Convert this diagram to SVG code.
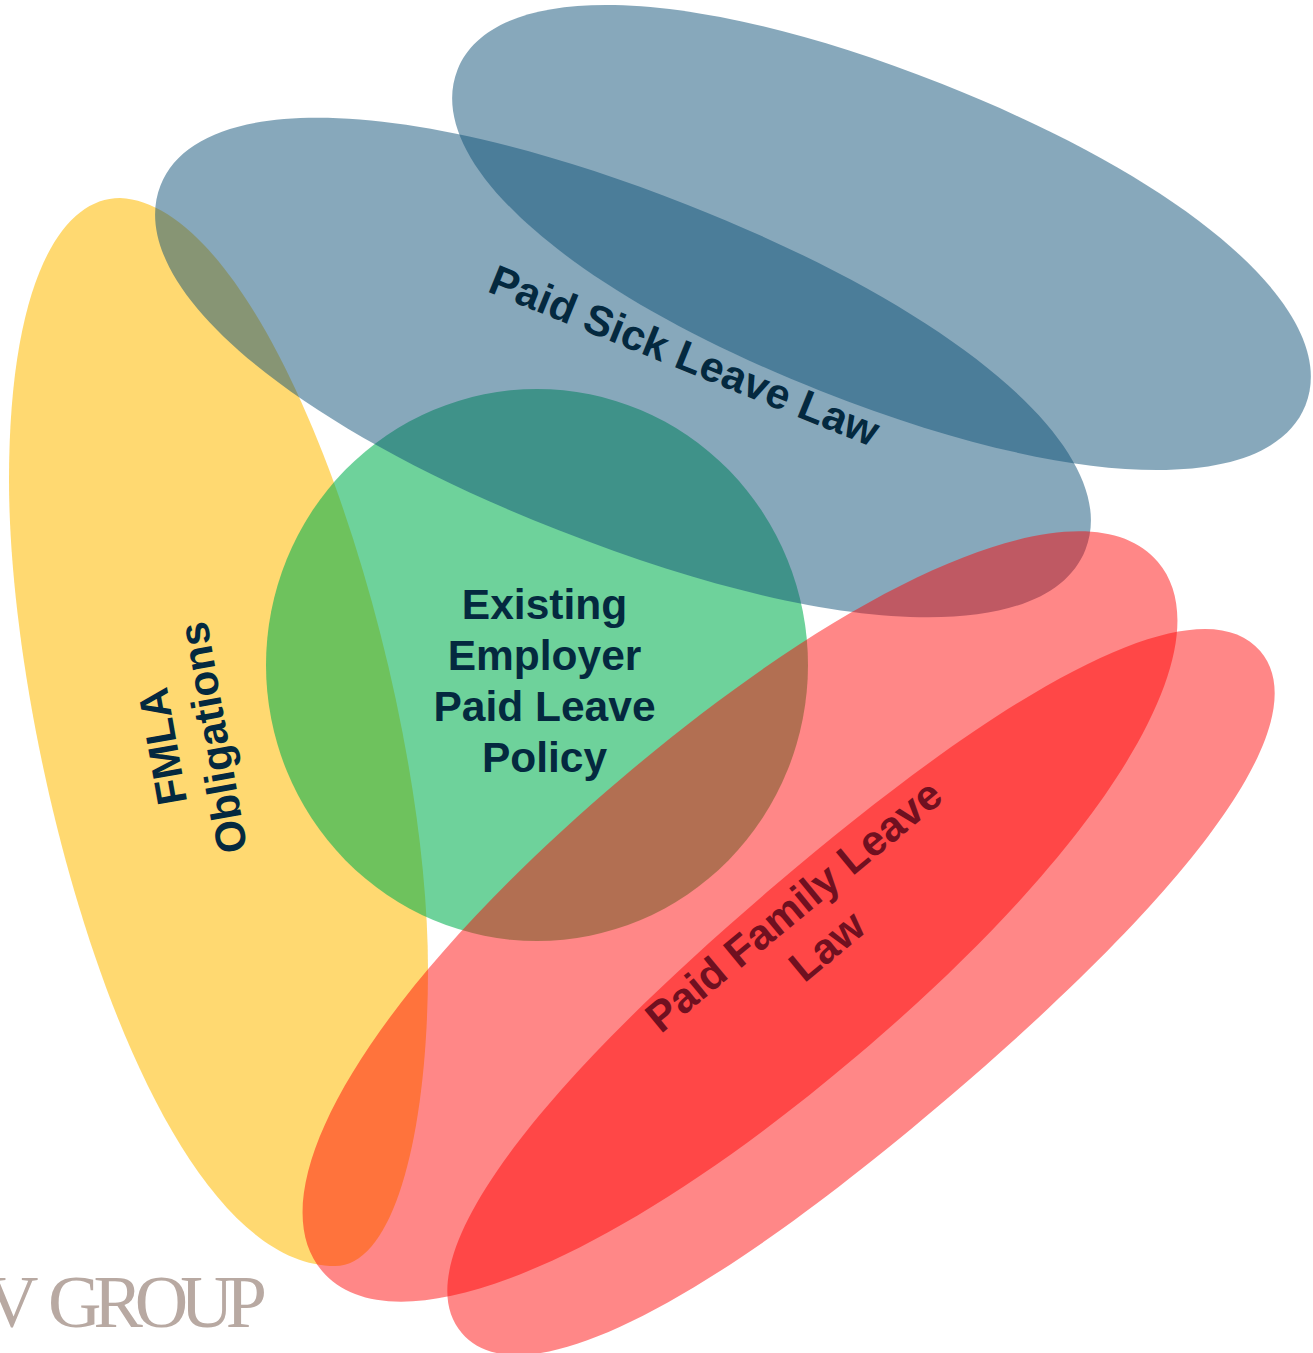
<svg xmlns="http://www.w3.org/2000/svg" width="1313" height="1353" viewBox="0 0 1313 1353">
<style>
.t{font-family:"Liberation Sans",Arial,sans-serif;font-weight:700;font-size:42.500px;fill:#04293f;text-anchor:middle}
.r{fill:#701020}
.s{fill:#0f5278;fill-opacity:.5}
.f{fill:#ff0000;fill-opacity:.47}
.l{font-family:"Liberation Serif",serif;font-size:74px;fill:#b8a9a2}
</style>
<defs>
<path id="blob" d="M1 0C1 .58 .61 1 0 1C-.61 1 -1 .58 -1 0C-1 -.58 -.61 -1 0 -1C.61 -1 1 -.58 1 0Z"/>
<path id="blob2" d="M1 0C1 .6 .68 1 0 1C-.68 1 -1 .6 -1 0C-1 -.6 -.68 -1 0 -1C.68 -1 1 -.6 1 0Z"/>
</defs>
<rect width="1313" height="1353" fill="#fff"/>
<text class="l" y="1327"><tspan x="-15">V</tspan><tspan x="48" letter-spacing="-8">GROUP</tspan></text>
<g id="fmla"><path fill="#ffd971" d="M120 198C275 205 428 680 428 970C428 1130 395 1266 335 1266C150 1266 9 760 9 480C9 290 58 198 120 198Z"/></g>
<g id="policy"><ellipse cx="537" cy="665" rx="271" ry="276" fill="#00b050" fill-opacity=".57"/></g>
<g id="sick1"><use href="#blob" class="s" transform="translate(623 367.500) rotate(21.500) scale(497 175)"/></g>
<g id="sick2"><use href="#blob" class="s" transform="translate(881.500 237.500) rotate(21.600) scale(456 165)"/></g>
<g id="family1"><use href="#blob" class="f" transform="translate(740 916.500) rotate(-40.300) scale(548 182)"/></g>
<g id="family2"><use href="#blob2" class="f" transform="translate(861 992) rotate(-40.500) scale(525 137)"/></g>
<g id="labels">
<text class="t" transform="translate(679 369) rotate(22)">Paid Sick Leave Law</text>
<text class="t" x="544.500" y="619">Existing</text><text class="t" x="544.500" y="670">Employer</text><text class="t" x="544.500" y="721">Paid Leave</text><text class="t" x="544.500" y="772">Policy</text>
<g id="fmla-label" transform="translate(177 744) rotate(-100)"><text class="t" x="0" y="0">FMLA</text><text class="t" x="0" y="51">Obligations</text></g>
<g id="family-label" transform="translate(803 917) rotate(-39.500)"><text class="t r" x="0" y="0">Paid Family Leave</text><text class="t r" x="0" y="52">Law</text></g>
</g>
</svg>
